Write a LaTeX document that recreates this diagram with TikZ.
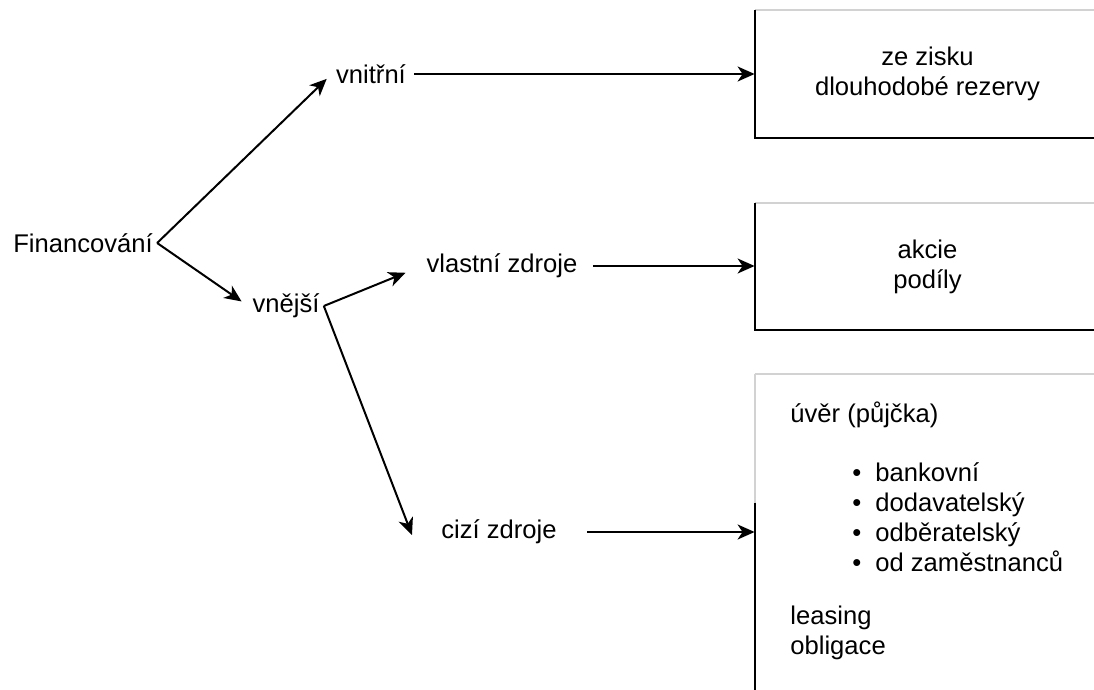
\documentclass[tikz,border=0pt]{standalone}
\usepackage{fontspec}
\setmainfont{Liberation Sans}
\usetikzlibrary{arrows.meta, positioning}

\tikzset{
  lbl/.style={inner sep=2pt, font=\fontsize{12.8}{15}\selectfont},
  arr/.style={-{Stealth[length=8.5pt,width=7.5pt,inset=2.5pt]}, line width=1pt},
  boxarea/.style={draw=none, inner sep=0pt, minimum width=172.5pt, align=center,
    font=\fontsize{12.8}{15}\selectfont},
  edge line/.style={line width=1pt},
  top line/.style={line width=1pt, gray!35},
}

\begin{document}
\begin{tikzpicture}[x=0.5pt, y=-0.5pt]
        \useasboundingbox (0,0) rectangle (1094,690);

        % levy strom
        \node[lbl] (fin) at (83,243) {Financování};
        \node[lbl] (vnitrni) at (371,74) {vnitřní};
        \node[lbl] (vnejsi) at (286,306) {vnější};
        \node[lbl] (vlastni) at (502,266) {vlastní zdroje};
        \node[lbl] (cizi) at (499,532) {cizí zdroje};

        % boxy vpravo
        \node[boxarea, minimum height=64pt] (b1) at (927.5,74) {ze zisku\\dlouhodobé rezervy};
        \node[boxarea, minimum height=63.5pt] (b2) at (927.5,266.5) {akcie\\podíly};
        \node[boxarea, minimum height=163pt] (b3) at (927.5,537) {};

        \draw[top line] (b1.north west) -- (b1.north east);
        \draw[edge line] (b1.north west) -- (b1.south west) -- (b1.south east);
        \draw[top line] (b2.north west) -- (b2.north east);
        \draw[edge line] (b2.north west) -- (b2.south west) -- (b2.south east);
        \draw[top line] (b3.north west) -- (b3.north east);
        \draw[top line] (b3.north west) -- ([yshift=-64.5pt]b3.north west);
        \draw[edge line] ([yshift=-64.5pt]b3.north west) -- (b3.south west);

        \node[lbl, anchor=west, inner sep=0pt] (uver) at (790,415) {úvěr (půjčka)};
        \node[lbl, anchor=west, inner sep=0pt, align=left] (druhy) at (852,517)
          {\textbullet\hspace{7pt}bankovní\\
           \textbullet\hspace{7pt}dodavatelský\\
           \textbullet\hspace{7pt}odběratelský\\
           \textbullet\hspace{7pt}od zaměstnanců};
        \node[lbl, anchor=west, inner sep=0pt, align=left] (dalsi) at (790,633) {leasing\\obligace};

        % sipky
        \draw[arr, shorten >=3.5pt] (fin.east) -- (vnitrni.west);
        \draw[arr, shorten >=4pt] (fin.east) -- (vnejsi.west);
        \draw[arr, shorten >=9pt] (vnejsi.east) -- (vlastni.west);
        \draw[arr] (vnejsi.east) -- ([xshift=-12.5pt, yshift=-1.5pt]cizi.west);

        \draw[arr, shorten <=2pt] (vnitrni.east) -- (b1.west);
        \draw[arr, shorten <=5.5pt] (vlastni.east) -- (b2.west |- vlastni.east);
        \draw[arr, shorten <=13pt] (cizi.east) -- (b3.west |- cizi.east);
      \end{tikzpicture}
\end{document}
